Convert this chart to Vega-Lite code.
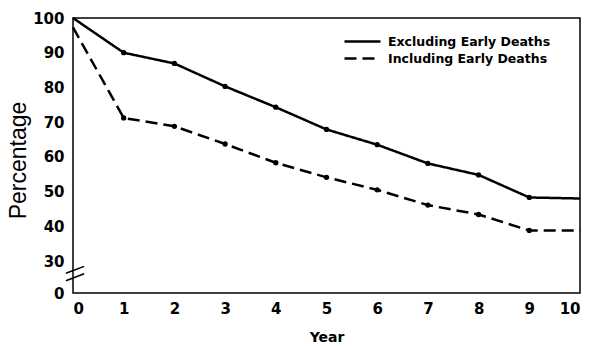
{
  "$schema": "https://vega.github.io/schema/vega-lite/v6.json",
  "width": 507,
  "height": 275,
  "autosize": "none",
  "padding": {"left": 73, "top": 18, "right": 12, "bottom": 53},
  "background": "white",
  "config": {
    "view": {"stroke": "black", "strokeWidth": 1.5},
    "axis": {"grid": false, "domain": false, "ticks": false, "tickSize": 0, "labelOverlap": false,
             "labelFont": "DejaVu Sans", "labelFontWeight": "bold", "labelFontSize": 15, "labelColor": "black",
             "titleColor": "black"}
  },
  "datasets": {
    "series": [
      {"year": 0, "pct": 100, "group": "Excluding Early Deaths"},
      {"year": 1, "pct": 90, "group": "Excluding Early Deaths"},
      {"year": 2, "pct": 86.9, "group": "Excluding Early Deaths"},
      {"year": 3, "pct": 80.3, "group": "Excluding Early Deaths"},
      {"year": 4, "pct": 74.3, "group": "Excluding Early Deaths"},
      {"year": 5, "pct": 67.9, "group": "Excluding Early Deaths"},
      {"year": 6, "pct": 63.5, "group": "Excluding Early Deaths"},
      {"year": 7, "pct": 58.1, "group": "Excluding Early Deaths"},
      {"year": 8, "pct": 54.8, "group": "Excluding Early Deaths"},
      {"year": 9, "pct": 48.3, "group": "Excluding Early Deaths"},
      {"year": 10, "pct": 48.0, "group": "Excluding Early Deaths"},
      {"year": 0, "pct": 97.3, "group": "Including Early Deaths"},
      {"year": 1, "pct": 71.2, "group": "Including Early Deaths"},
      {"year": 2, "pct": 68.8, "group": "Including Early Deaths"},
      {"year": 3, "pct": 63.7, "group": "Including Early Deaths"},
      {"year": 4, "pct": 58.3, "group": "Including Early Deaths"},
      {"year": 5, "pct": 54.1, "group": "Including Early Deaths"},
      {"year": 6, "pct": 50.5, "group": "Including Early Deaths"},
      {"year": 7, "pct": 46.1, "group": "Including Early Deaths"},
      {"year": 8, "pct": 43.4, "group": "Including Early Deaths"},
      {"year": 9, "pct": 38.8, "group": "Including Early Deaths"},
      {"year": 10, "pct": 38.8, "group": "Including Early Deaths"}
    ],
    "breaks": [
      {"x1": -0.14, "y1": 18.5, "x2": 0.22, "y2": 25},
      {"x1": -0.14, "y1": 11.5, "x2": 0.22, "y2": 18}
    ]
  },
  "layer": [
    {
      "data": {"name": "series"},
      "mark": {"type": "line", "color": "black", "strokeWidth": 2.5},
      "encoding": {
        "x": {"field": "year", "type": "quantitative",
              "scale": {"domain": [0, 10], "nice": false},
              "axis": {"values": [0,1,2,3,4,5,6,7,8,9,10], "labelPadding": 8, "title": "Year",
                       "titleFont": "DejaVu Sans", "titleFontWeight": "bold", "titleFontSize": 14, "titlePadding": 14}},
        "y": {"field": "pct", "type": "quantitative",
              "scale": {"domain": [0, 30, 100], "range": [275, 243, 0], "nice": false, "zero": false},
              "axis": {"values": [0,30,40,50,60,70,80,90,100], "labelOverlap": false, "labelBound": false,
                       "tickCount": 10, "labelPadding": 9, "title": "Percentage", "titleY": 142,
                       "titleFont": "Liberation Sans", "titleFontWeight": "normal", "titleFontSize": 23, "titlePadding": 2}},
        "strokeDash": {"field": "group", "type": "nominal",
                       "scale": {"domain": ["Excluding Early Deaths", "Including Early Deaths"], "range": [[1, 0], [12, 6]]},
                       "legend": {"title": null, "orient": "none", "legendX": 270, "legendY": 15,
                                  "symbolType": "stroke", "symbolSize": 1296, "symbolStrokeWidth": 2.5,
                                  "symbolStrokeColor": "black", "labelFont": "DejaVu Sans", "labelFontWeight": "bold",
                                  "labelFontSize": 12.5, "labelColor": "black", "labelOffset": 6, "padding": 0,
                                  "rowPadding": 0, "clipHeight": 17, "labelLimit": 300}}
      }
    },
    {
      "data": {"name": "series"},
      "transform": [{"filter": "datum.year >= 1 && datum.year <= 9"}],
      "mark": {"type": "point", "filled": true, "color": "black", "size": 28, "opacity": 1},
      "encoding": {
        "x": {"field": "year", "type": "quantitative"},
        "y": {"field": "pct", "type": "quantitative"}
      }
    },
    {
      "data": {"name": "breaks"},
      "mark": {"type": "rule", "color": "black", "strokeWidth": 1.5},
      "encoding": {
        "x": {"field": "x1", "type": "quantitative"},
        "x2": {"field": "x2"},
        "y": {"field": "y1", "type": "quantitative"},
        "y2": {"field": "y2"}
      }
    }
  ]
}
